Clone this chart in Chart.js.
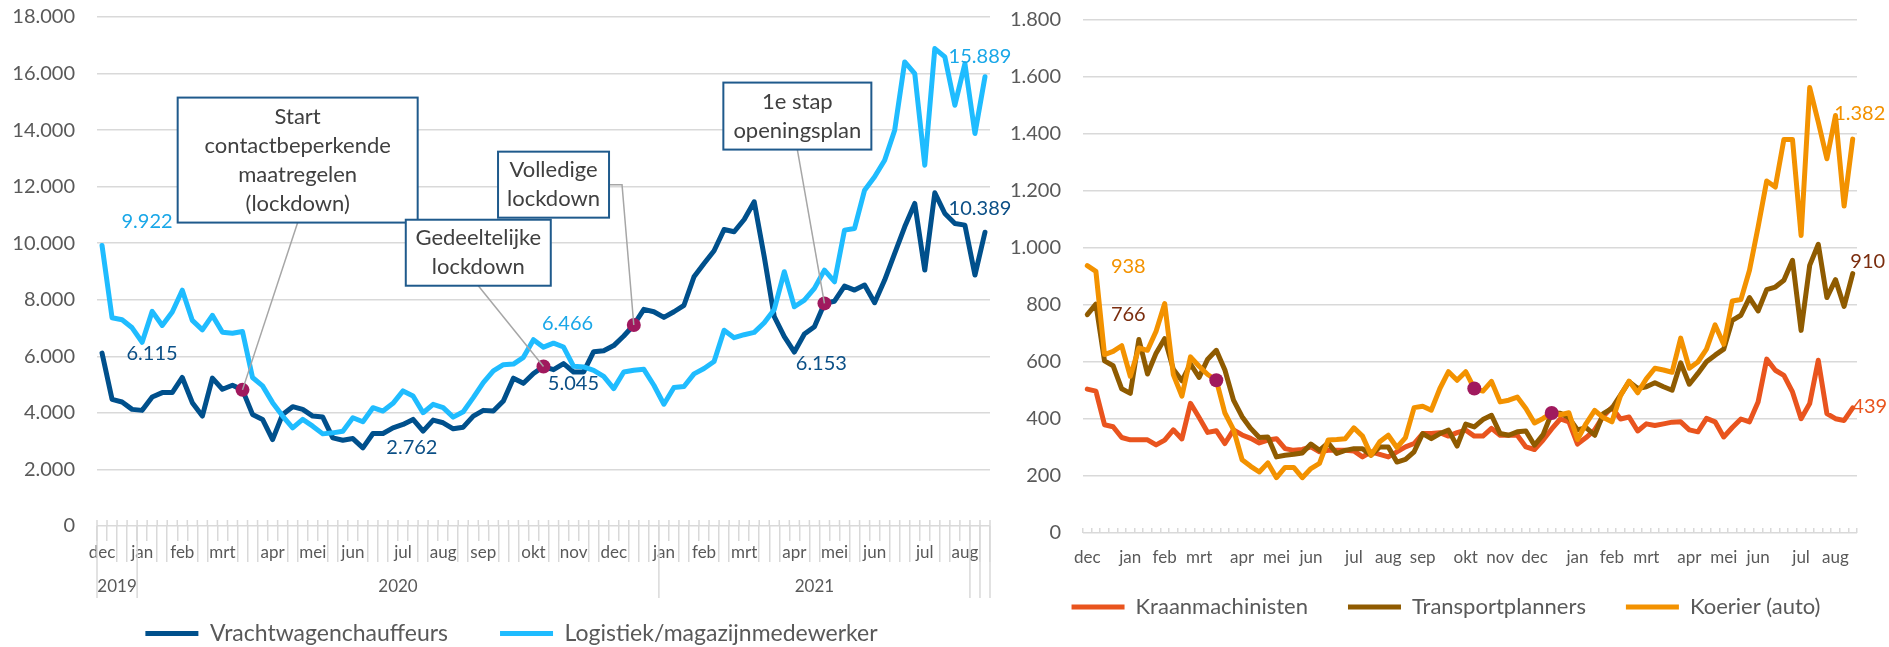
<!DOCTYPE html>
<html>
<head>
<meta charset="utf-8">
<script src="https://cdn.jsdelivr.net/npm/chart.js@4.4.1/dist/chart.umd.min.js"></script>
<style>
  body { margin: 0; background: #ffffff; }
  #links { position: absolute; left: 0; top: 0; width: 1023px; height: 647px; }
  #rechts { position: absolute; left: 1003px; top: 0; width: 886px; height: 647px; }
</style>
</head>
<body>
<div id="links"><canvas id="grafiekLinks"></canvas></div>
<div id="rechts"><canvas id="grafiekRechts"></canvas></div>
<script>
// maanden en aantal weken per maand (dec 2019 t/m aug 2021)
const maanden = ['dec', 'jan', 'feb', 'mrt', 'apr', 'mei', 'jun', 'jul', 'aug', 'sep', 'okt', 'nov', 'dec',
                 'jan', 'feb', 'mrt', 'apr', 'mei', 'jun', 'jul', 'aug'];
const wekenLinks = [4, 4, 4, 5, 4, 4, 5, 4, 4, 5, 4, 4, 5, 4, 4, 5, 4, 4, 5, 4, 3];
const wekenRechts = [5, 4, 4, 5, 4, 4, 5, 4, 4, 5, 4, 4, 5, 4, 4, 5, 4, 4, 5, 4, 3];
const jaren = ['2019', '2020', '2021', '', ''];
const wekenPerJaar = [4, 52, 31, 1, 1];

const vrachtwagen = [6115, 4480, 4385, 4124, 4089, 4563, 4718, 4718, 5252, 4362, 3887, 5228, 4837, 4979, 4814,
  3946, 3769, 3056, 3946, 4219, 4124, 3887, 3851, 3115, 3032, 3092, 2762, 3270, 3270, 3472, 3590, 3769, 3353,
  3744, 3650, 3436, 3495, 3887, 4089, 4065, 4421, 5228, 5045, 5394, 5640, 5530, 5741, 5447, 5447, 6164, 6199,
  6380, 6720, 7110, 7660, 7577, 7377, 7577, 7805, 8814, 9285, 9733, 10487, 10405, 10840, 11465, 9521, 7401,
  6694, 6153, 6788, 7047, 7872, 7950, 8484, 8343, 8520, 7895, 8696, 9639, 10581, 11406, 9050, 11783, 11052,
  10699, 10640, 8873, 10389];
const logistiek = [9922, 7365, 7294, 7009, 6498, 7590, 7092, 7567, 8338, 7270, 6937, 7448, 6854, 6819, 6878,
  5252, 4955, 4362, 3887, 3472, 3769, 3531, 3258, 3294, 3353, 3828, 3685, 4184, 4065, 4338, 4777, 4599, 4006,
  4303, 4184, 3851, 4041, 4540, 5074, 5489, 5703, 5727, 5964, 6590, 6325, 6466, 6329, 5647, 5624, 5506, 5294,
  4859, 5447, 5506, 5541, 4977, 4306, 4900, 4935, 5380, 5570, 5817, 6923, 6660, 6765, 6846, 7188, 7659, 8991,
  7754, 7990, 8402, 9050, 8638, 10463, 10522, 11877, 12348, 12937, 13997, 16412, 16000, 12761, 16884, 16589,
  14881, 16353, 13880, 15889];

const kraan = [505, 498, 380, 373, 335, 327, 327, 327, 309, 326, 362, 330, 455, 405, 353, 359, 314, 362, 344,
  332, 316, 326, 331, 296, 290, 293, 302, 285, 290, 290, 290, 288, 267, 285, 276, 267, 285, 302, 314, 349, 349,
  352, 340, 352, 361, 340, 340, 367, 343, 343, 343, 302, 293, 326, 365, 400, 390, 312, 335, 362, 410, 440, 400,
  407, 358, 383, 377, 383, 389, 390, 362, 355, 402, 390, 337, 370, 400, 390, 460, 610, 571, 553, 495, 401, 454,
  606, 419, 401, 395, 439];
const transport = [766, 803, 604, 587, 506, 490, 679, 558, 631, 682, 575, 534, 593, 546, 610, 641, 572, 466,
  408, 367, 335, 337, 267, 273, 276, 281, 312, 290, 316, 279, 290, 296, 296, 273, 302, 302, 249, 258, 285, 349,
  331, 349, 361, 305, 382, 372, 398, 413, 349, 343, 355, 358, 308, 345, 421, 420, 405, 362, 370, 343, 419, 437,
  484, 531, 507, 513, 527, 513, 501, 597, 522, 560, 601, 624, 645, 746, 764, 826, 779, 854, 863, 887, 957, 711,
  939, 1013, 826, 889, 795, 910];
const koerier = [938, 918, 626, 637, 657, 550, 649, 641, 708, 805, 556, 480, 618, 585, 556, 536, 421, 363, 257,
  234, 214, 246, 194, 230, 230, 194, 226, 244, 326, 328, 331, 369, 340, 273, 320, 343, 300, 335, 440, 445, 431,
  507, 566, 536, 566, 507, 498, 532, 460, 466, 477, 437, 386, 402, 422, 415, 422, 328, 384, 430, 405, 390, 482,
  533, 492, 541, 578, 572, 564, 684, 578, 600, 645, 730, 662, 814, 819, 922, 1074, 1235, 1214, 1381, 1381, 1044,
  1563, 1442, 1313, 1465, 1147, 1382];

// weken waarop een maatregel inging
const maatregelWekenLinks = [14, 44, 53, 72];
const maatregelWekenRechts = [15, 45, 54];

function weekLabels(weken) {
    let labels = [];
    maanden.forEach(function (maand, m) {
        for (let w = 0; w < weken[m]; w++) {
            labels.push(w == 0 ? maand : '');
        }
    });
    return labels;
}

function formatNL(v) {
    return String(Math.round(v)).replace(/\B(?=(\d{3})+(?!\d))/g, '.');
}

function lijn(label, data, kleur, volgorde) {
    return {
        label: label, data: data, borderColor: kleur, backgroundColor: kleur,
        borderWidth: 5, pointRadius: 0, tension: 0, order: volgorde,
        borderJoinStyle: 'round', borderCapStyle: 'round'
    };
}

function markers(weken, reeksen) {
    let data = [];
    for (let i = 0; i < reeksen[0].length; i++) data.push(null);
    weken.forEach(function (w, k) { data[w] = reeksen[k][w]; });
    return {
        label: 'maatregel', data: data, showLine: false, order: 0,
        pointRadius: 7, pointHoverRadius: 7, pointBorderWidth: 0,
        pointBackgroundColor: '#a0195e', borderColor: '#a0195e'
    };
}

// tekst bij punten
const waardeLabels = {
    id: 'waardeLabels',
    afterDatasetsDraw(chart, args, opts) {
        const ctx = chart.ctx;
        ctx.save();
        ctx.font = '20px Lato';
        ctx.textAlign = 'center';
        ctx.textBaseline = 'middle';
        opts.lijst.forEach(function (l) {
            const punt = chart.getDatasetMeta(l.reeks).data[l.index];
            const waarde = chart.data.datasets[l.reeks].data[l.index];
            ctx.fillStyle = l.kleur;
            ctx.fillText(formatNL(waarde), punt.x + l.dx, punt.y + l.dy);
        });
        ctx.restore();
    }
};

// kaders met toelichting
const toelichting = {
    id: 'toelichting',
    afterDatasetsDraw(chart, args, opts) {
        const ctx = chart.ctx;
        const x = chart.scales.x, y = chart.scales.y;
        ctx.save();
        opts.kaders.forEach(function (k) {
            const cx = x.getPixelForValue(k.week), cy = y.getPixelForValue(k.waarde);
            const links = cx - k.breed / 2, boven = cy - k.hoog / 2;
            const doelX = x.getPixelForValue(k.doel);
            const doelY = y.getPixelForValue(vrachtwagen[k.doel]);
            ctx.strokeStyle = '#a6a6a6';
            ctx.lineWidth = 1.5;
            ctx.beginPath();
            if (k.haak) {
                ctx.moveTo(links + k.breed, cy);
                ctx.lineTo(links + k.breed + 13, cy);
            } else {
                ctx.moveTo(cx, boven + k.hoog);
            }
            ctx.lineTo(doelX, doelY);
            ctx.stroke();
            ctx.fillStyle = '#ffffff';
            ctx.fillRect(links, boven, k.breed, k.hoog);
            ctx.strokeStyle = '#1f5a8c';
            ctx.lineWidth = 2;
            ctx.strokeRect(links, boven, k.breed, k.hoog);
            ctx.fillStyle = '#404040';
            ctx.font = '22px Lato';
            ctx.textAlign = 'center';
            ctx.textBaseline = 'middle';
            const start = cy - (k.tekst.length - 1) * 29 / 2;
            k.tekst.forEach(function (t, r) { ctx.fillText(t, cx, start + r * 29); });
        });
        ctx.restore();
    }
};

// jaartallen onder de maanden
const jaarAs = {
    id: 'jaarAs',
    afterDraw(chart) {
        const x = chart.scales.x, ctx = chart.ctx;
        const half = (x.getPixelForValue(1) - x.getPixelForValue(0)) / 2;
        const bodem = chart.chartArea.bottom;
        ctx.save();
        ctx.strokeStyle = '#d9d9d9';
        ctx.lineWidth = 1.5;
        ctx.beginPath();
        for (let i = 0; i <= x.ticks.length; i++) {
            const px = x.getPixelForValue(i) - half;
            ctx.moveTo(px, bodem - 6);
            ctx.lineTo(px, bodem);
        }
        let grenzen = [0];
        wekenPerJaar.forEach(function (n) { grenzen.push(grenzen[grenzen.length - 1] + n); });
        grenzen.forEach(function (g) {
            const px = x.getPixelForValue(g) - half;
            ctx.moveTo(px, bodem);
            ctx.lineTo(px, bodem + 72);
        });
        ctx.stroke();
        ctx.font = '17px Lato';
        ctx.fillStyle = '#595959';
        ctx.textAlign = 'center';
        ctx.textBaseline = 'middle';
        jaren.forEach(function (j, k) {
            const midden = (x.getPixelForValue(grenzen[k]) + x.getPixelForValue(grenzen[k + 1])) / 2 - half;
            ctx.fillText(j, midden, bodem + 61);
        });
        ctx.restore();
    }
};

function legenda(grootte, padding, maxHoogte) {
    return {
        position: 'bottom',
        maxHeight: maxHoogte,
        labels: {
            usePointStyle: true, pointStyle: 'line', pointStyleWidth: 53,
            font: { family: 'Lato', size: grootte }, color: '#595959', padding: padding,
            filter: function (item) { return item.text != 'maatregel'; },
            sort: function (a, b) { return a.datasetIndex - b.datasetIndex; }
        }
    };
}

function yAs(max, stap, breedte) {
    return {
        min: 0, max: max,
        ticks: { stepSize: stap, padding: 0, color: '#595959', font: { family: 'Lato', size: 20 },
            callback: function (v) { return formatNL(v); } },
        grid: { color: '#d9d9d9', lineWidth: 1.5, drawTicks: true, tickLength: 22, tickColor: 'rgba(0,0,0,0)' },
        border: { display: false },
        afterFit: function (s) { s.width = breedte; }
    };
}

function ruimteRechts(breedte) {
    return {
        position: 'right', display: true,
        grid: { display: false }, ticks: { display: false }, border: { display: false },
        afterFit: function (s) { s.width = breedte; }
    };
}

new Chart(document.getElementById('grafiekLinks'), {
    type: 'line',
    data: {
        labels: weekLabels(wekenLinks),
        datasets: [
            lijn('Vrachtwagenchauffeurs', vrachtwagen, '#00508c', 3),
            lijn('Logistiek/magazijnmedewerker', logistiek, '#1fbcff', 2),
            markers(maatregelWekenLinks, [vrachtwagen, vrachtwagen, vrachtwagen, vrachtwagen])
        ]
    },
    options: {
        responsive: true, maintainAspectRatio: false, animation: false,
        layout: { padding: { left: 0, right: 0, top: 17, bottom: 0 } },
        scales: {
            x: {
                offset: true,
                grid: { offset: true, drawOnChartArea: false, tickLength: 36, color: '#d9d9d9', lineWidth: 1.5 },
                border: { display: false },
                ticks: {
                    autoSkip: false, maxRotation: 0, minRotation: 0, padding: -20, color: '#595959',
                    font: { family: 'Lato', size: 17 },
                    showLabelBackdrop: true, backdropColor: '#ffffff',
                    backdropPadding: { top: 1, bottom: 1, left: 0, right: 0 }
                },
                afterFit: function (s) { s.height = 44; }
            },
            y: yAs(18000, 2000, 97),
            ruimte: ruimteRechts(33)
        },
        plugins: {
            legend: legenda(23, 52, 77),
            tooltip: { enabled: false },
            toelichting: {
                kaders: [
                    { tekst: ['Start', 'contactbeperkende', 'maatregelen', '(lockdown)'], week: 19.5, waarde: 12940, breed: 240, hoog: 125, doel: 14, haak: false },
                    { tekst: ['Gedeeltelijke', 'lockdown'], week: 37.5, waarde: 9664, breed: 145, hoog: 66, doel: 44, haak: false },
                    { tekst: ['Volledige', 'lockdown'], week: 45, waarde: 12071, breed: 111, hoog: 66, doel: 53, haak: true },
                    { tekst: ['1e stap', 'openingsplan'], week: 69.3, waarde: 14496, breed: 148, hoog: 67, doel: 72, haak: false }
                ]
            },
            waardeLabels: {
                lijst: [
                    { reeks: 1, index: 0, dx: 45, dy: -24, kleur: '#19a7e8' },
                    { reeks: 0, index: 0, dx: 50, dy: 0, kleur: '#0b4f86' },
                    { reeks: 0, index: 26, dx: 49, dy: 0, kleur: '#0b4f86' },
                    { reeks: 0, index: 42, dx: 50, dy: 0, kleur: '#0b4f86' },
                    { reeks: 1, index: 45, dx: 14, dy: -20, kleur: '#19a7e8' },
                    { reeks: 0, index: 69, dx: 27, dy: 12, kleur: '#0b4f86' },
                    { reeks: 1, index: 88, dx: -5, dy: -20, kleur: '#19a7e8' },
                    { reeks: 0, index: 88, dx: -5, dy: -24, kleur: '#0b4f86' }
                ]
            }
        }
    },
    plugins: [jaarAs, toelichting, waardeLabels]
});

new Chart(document.getElementById('grafiekRechts'), {
    type: 'line',
    data: {
        labels: weekLabels(wekenRechts),
        datasets: [
            lijn('Kraanmachinisten', kraan, '#e9541e', 4),
            lijn('Transportplanners', transport, '#8f5b00', 3),
            lijn('Koerier (auto)', koerier, '#f39200', 2),
            markers(maatregelWekenRechts, [koerier, koerier, transport])
        ]
    },
    options: {
        responsive: true, maintainAspectRatio: false, animation: false,
        layout: { padding: { left: 0, right: 0, top: 20, bottom: 19 } },
        scales: {
            x: {
                offset: true,
                grid: { offset: true, drawOnChartArea: false, tickLength: -5, color: '#d9d9d9', lineWidth: 1.5 },
                border: { display: false },
                ticks: { autoSkip: false, maxRotation: 0, minRotation: 0, mirror: true, padding: -35,
                    color: '#595959', font: { family: 'Lato', size: 17 } },
                afterFit: function (s) { s.height = 23; }
            },
            y: yAs(1800, 200, 80),
            ruimte: ruimteRechts(32)
        },
        plugins: {
            legend: legenda(22, 40, 100),
            tooltip: { enabled: false },
            waardeLabels: {
                lijst: [
                    { reeks: 2, index: 0, dx: 41, dy: 1, kleur: '#f39200' },
                    { reeks: 1, index: 0, dx: 41, dy: 0, kleur: '#7b2d0e' },
                    { reeks: 2, index: 89, dx: 7, dy: -26, kleur: '#f39200' },
                    { reeks: 1, index: 89, dx: 15, dy: -12, kleur: '#7b2d0e' },
                    { reeks: 0, index: 89, dx: 17, dy: -1, kleur: '#e9541e' }
                ]
            }
        }
    },
    plugins: [waardeLabels]
});
</script>
</body>
</html>
